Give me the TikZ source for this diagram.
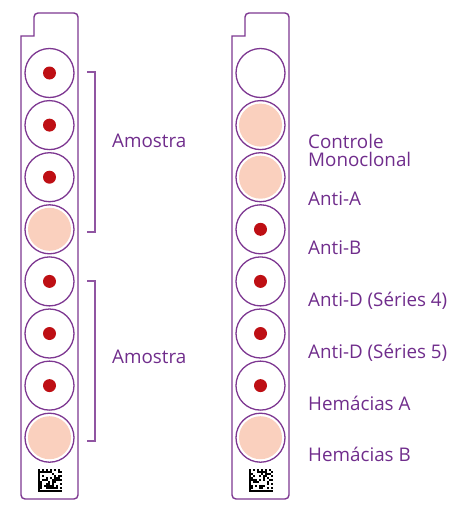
\documentclass[tikz,border=0pt]{standalone}
\usepackage{fontspec}
\setmainfont{Open Sans}
\usepackage{tikz}
\usetikzlibrary{positioning, calc}
\usepackage{xcolor}
\definecolor{cardpurple}{RGB}{125,55,145}
\definecolor{textpurple}{RGB}{112,45,140}
\definecolor{dotred}{RGB}{190,15,20}
\definecolor{peach}{RGB}{250,208,190}

\begin{document}
\begin{tikzpicture}[
    x=1pt, y=-1pt,
    card/.style={draw=cardpurple, line width=1.4pt},
    well/.style={circle, draw=cardpurple, line width=1.3pt, inner sep=0pt, minimum size=49pt},
    bracket/.style={draw=cardpurple!85, line width=1.1pt},
    lbl/.style={text=textpurple, font=\fontsize{18.8}{18}\selectfont, anchor=west, align=left, inner sep=0pt},
]
    \useasboundingbox (0,0) rectangle (474,506);

    % Card 1: sample strip
    \draw[card] (21,36) -- (34,36) [rounded corners=4pt] -- (34,13) -- (78,13)
        -- (78,499) -- (21,499) [sharp corners] -- cycle;
    \foreach \i in {1,...,8}
        \node[well] (a\i) at (49.5,{73+52.1*(\i-1)}) {};

    % Card 2: reagent strip
    \draw[card] (232,36) -- (245,36) [rounded corners=4pt] -- (245,13) -- (289,13)
        -- (289,499) -- (232,499) [sharp corners] -- cycle;
    \foreach \i in {1,...,8}
        \node[well] (b\i) at (260.5,{73+52.1*(\i-1)}) {};

    % Well contents
    \foreach \w in {a4,a8,b2,b3,b8}
        \fill[peach] (\w) circle (21.5);
    \foreach \w in {a1,a2,a3,a5,a6,a7,b4,b5,b6,b7}
        \fill[dotred] (\w) circle (6.5);

    % Data matrix codes
    \pgfmathsetseed{7}
    \foreach \cx in {38,249} {
        \fill (\cx,469) rectangle ++(2,23);
        \fill (\cx,490) rectangle ++(24,2);
        \foreach \c in {0,2,...,10}
            \fill (\cx+2*\c,469) rectangle ++(2,2);
        \foreach \r in {1,3,...,9}
            \fill (\cx+22,469+2*\r) rectangle ++(2,2);
        \foreach \c in {1,...,10}
            \foreach \r in {1,...,9} {
                \pgfmathparse{rnd>0.5 ? 1 : 0}
                \ifnum\pgfmathresult=1
                    \fill (\cx+2*\c,469+2*\r) rectangle ++(2,2);
                \fi
            }
    }

    % Brackets
    \draw[bracket] (87,72) -- (95,72) -- (95,232) -- (87,232);
    \draw[bracket] (87,281) -- (95,281) -- (95,441) -- (87,441);
    \node[lbl] (am1) at (112,141) {Amostra};
    \node[lbl] (am2) at (112,357) {Amostra};

    % Reagent labels
    \node[lbl] (ctrl) at (308,150) {Controle\\Monoclonal};
    \node[lbl] (antia) at (308,199) {Anti-A};
    \node[lbl] (antib) at (308,248) {Anti-B};
    \node[lbl] (antid4) at (308,301) {Anti-D (Séries 4)};
    \node[lbl] (antid5) at (308,353) {Anti-D (Séries 5)};
    \node[lbl] (hema) at (308,403) {Hemácias A};
    \node[lbl] (hemb) at (308,454) {Hemácias B};
\end{tikzpicture}
\end{document}
